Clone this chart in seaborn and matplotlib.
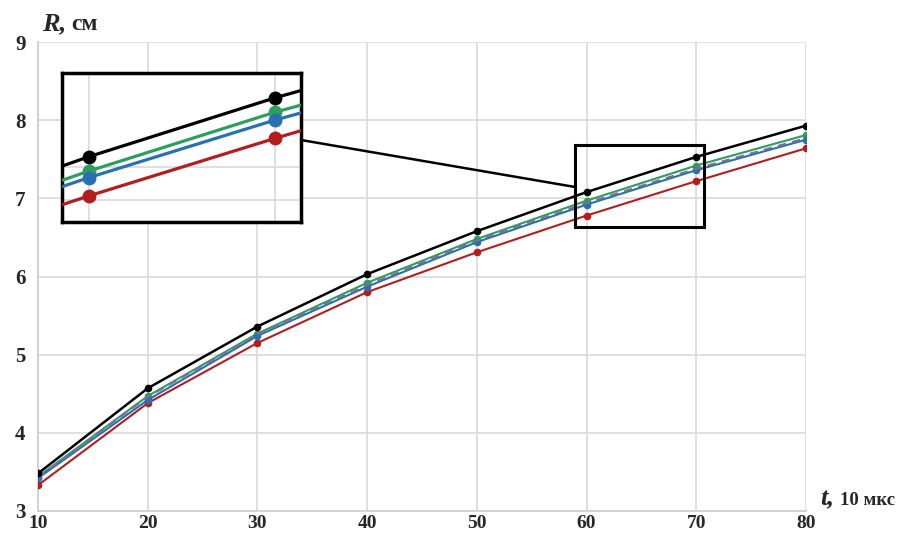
import numpy as np
import pandas as pd
import matplotlib
matplotlib.use("Agg")
import matplotlib.pyplot as plt
import seaborn as sns
from matplotlib.patches import Rectangle, ConnectionPatch

# ---- data ----
t = [10, 20, 30, 40, 50, 60, 70, 80]
r_black = [3.48, 4.57, 5.36, 6.03, 6.58, 7.08, 7.53, 7.93]
r_green = [3.44, 4.47, 5.27, 5.92, 6.48, 6.97, 7.42, 7.81]
r_blue = [3.42, 4.42, 5.24, 5.87, 6.44, 6.92, 7.36, 7.75]
r_dashed = [3.43, 4.46, 5.26, 5.89, 6.46, 6.94, 7.38, 7.77]
r_red = [3.33, 4.38, 5.15, 5.80, 6.31, 6.78, 7.22, 7.64]
x_ticks = [10, 20, 30, 40, 50, 60, 70, 80]
y_ticks = [3, 4, 5, 6, 7, 8, 9]

series = [
    ("red", r_red, "#b21e1e", "-", 1.5, True),
    ("green", r_green, "#2e9e5e", "-", 1.5, True),
    ("blue", r_blue, "#2a6fb0", "-", 1.5, True),
    ("dashed", r_dashed, "#7d6e92", "--", 1.5, False),
    ("black", r_black, "#000000", "-", 1.8, True),
]

sns.set_theme(style="whitegrid")
plt.rcParams["font.family"] = ["Liberation Serif", "DejaVu Serif"]

fig = plt.figure(figsize=(9.11, 5.37), dpi=100)
ax = fig.add_axes([38 / 911, 1 - 511 / 537, (806 - 38) / 911, (511 - 42) / 537])

for name, vals, col, ls, lw, mk in series:
    df = pd.DataFrame({"t": t, "R": vals})
    sns.lineplot(data=df, x="t", y="R", ax=ax, color=col, lw=lw,
                 linestyle=ls, marker="o" if mk else None,
                 markersize=5.5, markeredgewidth=0, legend=False, zorder=3)
    if ls == "--":
        ax.lines[-1].set_dashes((4, 3))

ax.set_xlim(10, 80)
ax.set_ylim(3, 9)
ax.set_xticks(x_ticks)
ax.set_yticks(y_ticks)
ax.set_xlabel("")
ax.set_ylabel("")
ax.grid(True, color="#dcdcdc", lw=1.3)
for s in ["top", "right"]:
    ax.spines[s].set_visible(False)
for s in ["left", "bottom"]:
    ax.spines[s].set_color("#cfcfcf")
    ax.spines[s].set_linewidth(1.3)
ax.tick_params(axis="both", length=0, labelsize=15)
ax.tick_params(axis="x", pad=3, labelsize=14)
ax.tick_params(axis="y", pad=9)
for lab in ax.get_xticklabels() + ax.get_yticklabels():
    lab.set_fontweight("bold")

# axis titles
fig.text(42 / 911, 1 - 30 / 537, "R,", fontsize=19, fontweight="bold",
         fontstyle="italic", va="baseline", ha="left")
fig.text(71 / 911, 1 - 30 / 537, "см", fontsize=17, fontweight="bold",
         va="baseline", ha="left")
fig.text(820 / 911, 1 - 505 / 537, "t,", fontsize=19, fontweight="bold",
         fontstyle="italic", va="baseline", ha="left")
fig.text(840 / 911, 1 - 505 / 537, "10 мкс", fontsize=13.5, fontweight="bold",
         va="baseline", ha="left")

# zoom rectangle in main axes
rx0, rx1, ry0, ry1 = 58.95, 70.7, 6.63, 7.68
ax.add_patch(Rectangle((rx0, ry0), rx1 - rx0, ry1 - ry0, fill=False,
                       ec="black", lw=2.2, zorder=5))

# inset
ins = fig.add_axes([62 / 911, 1 - 222 / 537, (301 - 62) / 911, (222 - 73) / 537])
ins.set_facecolor("white")
for name, vals, col, ls, lw, mk in series:
    if ls == "--":
        continue
    df = pd.DataFrame({"t": t, "R": vals})
    sns.lineplot(data=df, x="t", y="R", ax=ins, color=col, lw=2.3,
                 marker="o", markersize=10, markeredgewidth=0,
                 legend=False, zorder=3)
ins.set_xlim(58.55, 71.4)
ins.set_ylim(6.58, 7.72)
ins.set_xticks([60, 70])
ins.set_yticks([6.75, 7.0])
ins.set_xticklabels([])
ins.set_yticklabels([])
ins.set_xlabel("")
ins.set_ylabel("")
ins.tick_params(length=0)
ins.grid(True, color="#dcdcdc", lw=1.3)
for s in ins.spines.values():
    s.set_visible(True)
    s.set_color("black")
    s.set_linewidth(2.5)

con = ConnectionPatch(xyA=(1.0, (222 - 140) / 149), coordsA=ins.transAxes,
                      xyB=(rx0, 7.145), coordsB=ax.transData,
                      color="black", lw=1.8)
fig.add_artist(con)

fig.savefig("out.png", dpi=100)
